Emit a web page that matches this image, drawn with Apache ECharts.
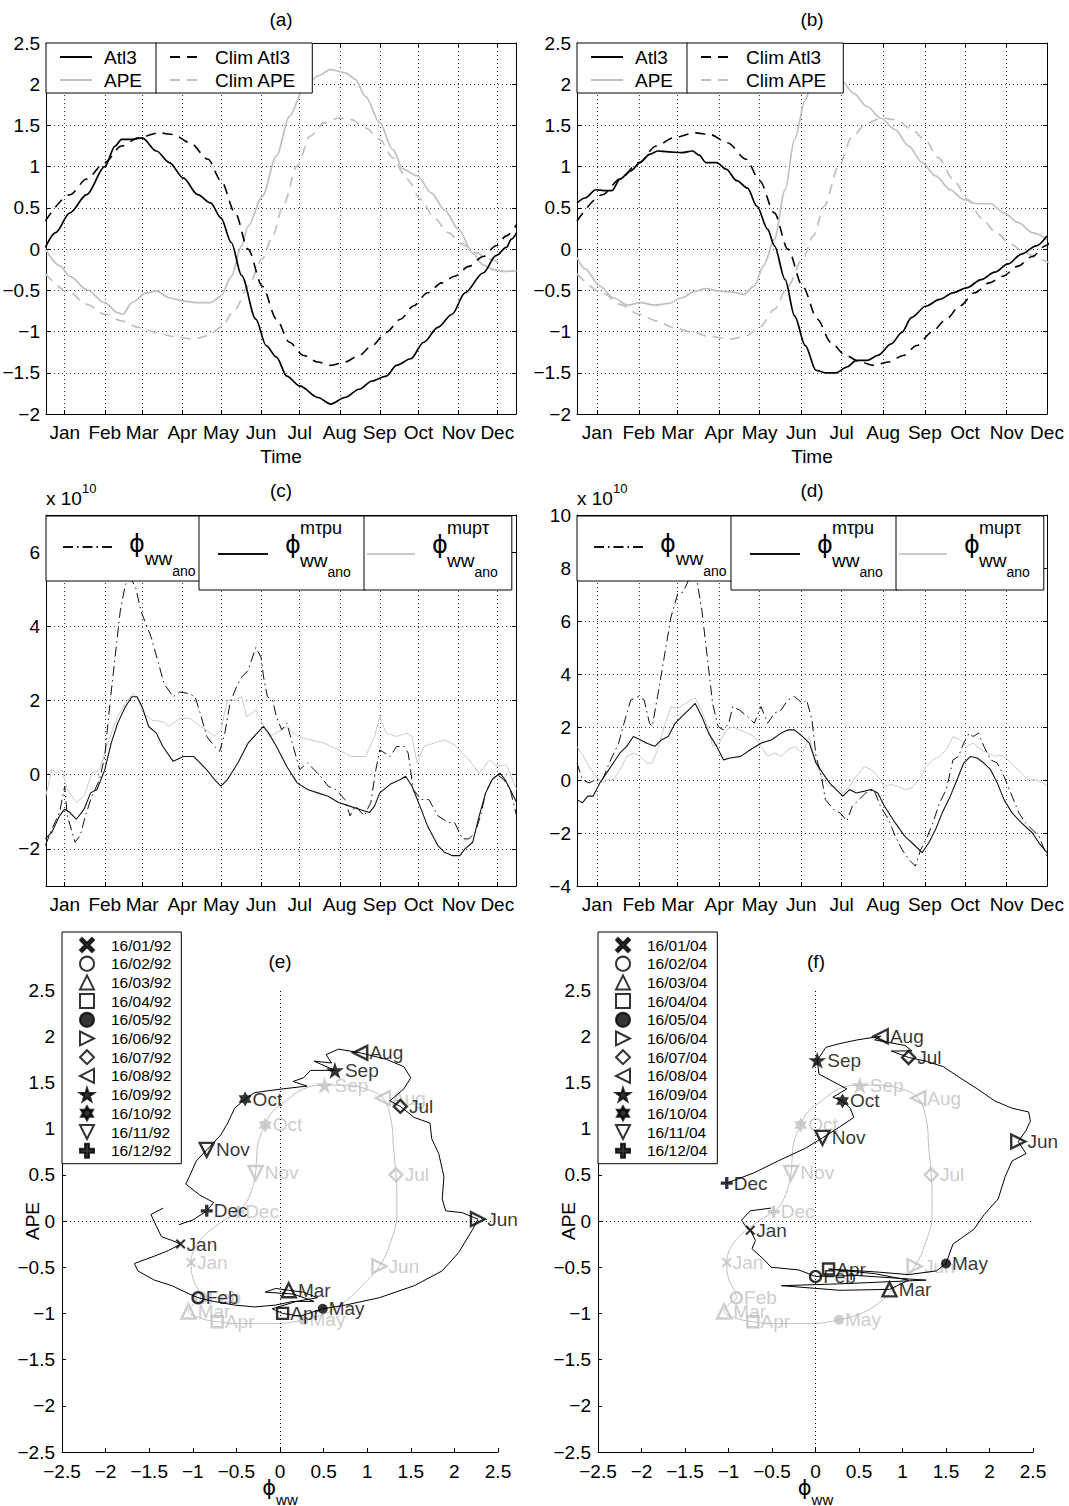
<!DOCTYPE html>
<html>
<head>
<meta charset="utf-8">
<title>Atl3, APE and phi_ww</title>
<script src="https://cdn.jsdelivr.net/npm/echarts@6.0.0/dist/echarts.min.js"></script>
<style>
html,body{margin:0;padding:0;background:#fff;width:1069px;height:1506px;overflow:hidden;position:relative;}
#chart{position:absolute;left:-12px;top:0;width:1081px;height:1506px;}
</style>
</head>
<body>
<div id="chart"></div>
<script>
// ================= DATA =================
const monthNames = ['Jan','Feb','Mar','Apr','May','Jun','Jul','Aug','Sep','Oct','Nov','Dec'];
const monthTickDays = [15,46,75,106,136,167,197,228,259,289,320,350];
const yTicksC = [-2,0,2,4,6];
const dates92 = ['16/01/92','16/02/92','16/03/92','16/04/92','16/05/92','16/06/92','16/07/92','16/08/92','16/09/92','16/10/92','16/11/92','16/12/92'];
const dates04 = ['16/01/04','16/02/04','16/03/04','16/04/04','16/05/04','16/06/04','16/07/04','16/08/04','16/09/04','16/10/04','16/11/04','16/12/04'];

// [day of year, normalised value]
const climAtl3 = [[0,0.34],[19,0.66],[32,0.85],[46,1.05],[59,1.25],[72,1.35],[88,1.41],[99,1.39],[112,1.29],[126,1.09],[136,0.83],[147,0.44],[157,0.0],[168,-0.45],[179,-0.85],[189,-1.13],[200,-1.29],[211,-1.37],[221,-1.41],[232,-1.37],[243,-1.29],[253,-1.17],[264,-1.01],[275,-0.85],[285,-0.69],[296,-0.53],[307,-0.41],[317,-0.33],[328,-0.21],[339,-0.09],[349,0.04],[357,0.16],[365,0.30]];
const climAPE = [[0,-0.30],[19,-0.53],[32,-0.67],[46,-0.79],[59,-0.87],[72,-0.95],[86,-1.01],[99,-1.06],[115,-1.09],[126,-1.05],[136,-0.95],[147,-0.73],[157,-0.45],[168,-0.12],[176,0.16],[184,0.52],[195,1.01],[205,1.37],[216,1.53],[227,1.59],[237,1.57],[248,1.47],[259,1.33],[269,1.11],[280,0.85],[291,0.60],[301,0.38],[312,0.20],[323,0.06],[333,-0.04],[344,-0.12],[355,-0.20]];
const atl3_92 = [[0,0.02],[8,0.20],[19,0.44],[32,0.66],[46,1.0],[54,1.25],[59,1.33],[67,1.33],[75,1.35],[86,1.19],[96,1.05],[107,0.86],[118,0.66],[128,0.56],[136,0.38],[144,0.08],[152,-0.32],[163,-0.85],[171,-1.17],[179,-1.31],[187,-1.54],[197,-1.66],[211,-1.80],[221,-1.88],[232,-1.80],[243,-1.70],[253,-1.60],[264,-1.54],[272,-1.41],[283,-1.33],[293,-1.13],[304,-0.95],[315,-0.79],[325,-0.53],[339,-0.29],[349,-0.08],[357,0.02],[361,0.12],[365,0.20]];
const ape_92 = [[0,0.0],[11,-0.20],[19,-0.33],[32,-0.49],[46,-0.65],[56,-0.77],[60,-0.79],[67,-0.65],[78,-0.53],[86,-0.51],[96,-0.59],[107,-0.63],[118,-0.65],[128,-0.65],[136,-0.57],[144,-0.33],[152,0.04],[157,0.28],[168,0.64],[179,1.13],[189,1.61],[200,1.94],[211,2.10],[221,2.18],[232,2.14],[240,2.06],[248,1.85],[259,1.53],[269,1.21],[277,0.97],[288,0.89],[299,0.68],[309,0.48],[320,0.24],[331,-0.05],[339,-0.19],[347,-0.25],[355,-0.27],[365,-0.26]];
const atl3_04 = [[0,0.56],[6,0.62],[14,0.72],[20,0.71],[26,0.71],[32,0.85],[40,0.95],[47,1.05],[54,1.15],[60,1.19],[68,1.18],[78,1.17],[86,1.19],[91,1.14],[96,1.05],[104,1.05],[111,0.97],[119,0.83],[127,0.74],[134,0.52],[142,0.24],[147,0.04],[155,-0.37],[162,-0.81],[170,-1.17],[178,-1.47],[185,-1.50],[193,-1.50],[201,-1.43],[208,-1.35],[216,-1.35],[224,-1.29],[234,-1.15],[242,-1.01],[249,-0.83],[260,-0.69],[270,-0.61],[280,-0.53],[290,-0.47],[301,-0.37],[311,-0.28],[321,-0.18],[331,-0.06],[342,0.04],[350,0.16]];
const ape_04 = [[0,-0.10],[6,-0.24],[17,-0.45],[27,-0.59],[38,-0.68],[47,-0.65],[58,-0.68],[68,-0.66],[78,-0.59],[88,-0.51],[96,-0.48],[106,-0.51],[116,-0.52],[124,-0.55],[132,-0.45],[139,-0.20],[147,0.12],[155,0.72],[162,1.33],[170,1.81],[176,2.1],[183,2.3],[190,2.25],[197,2.04],[206,1.89],[216,1.73],[226,1.59],[237,1.45],[247,1.25],[257,1.05],[267,0.89],[278,0.72],[288,0.60],[298,0.55],[308,0.55],[318,0.44],[329,0.32],[339,0.20],[350,0.12]];

// [day of year, value x 1e10]
const phi_92 = [[0,-1.91],[5,-1.47],[11,-1.02],[15,-0.31],[17,-1.11],[23,-1.82],[27,-1.64],[31,-1.11],[36,-0.58],[42,-0.13],[46,0.50],[50,1.92],[54,3.17],[58,4.41],[62,5.13],[66,5.3],[70,5.04],[74,4.41],[78,4.06],[82,3.70],[87,3.08],[92,2.45],[99,2.10],[104,2.23],[111,2.19],[116,2.10],[120,1.65],[125,1.03],[131,0.76],[135,0.63],[139,1.12],[143,1.92],[148,2.37],[152,2.63],[157,2.81],[163,3.43],[167,3.17],[169,2.63],[172,2.10],[176,2.01],[179,1.56],[183,1.21],[187,1.39],[192,0.76],[197,0.14],[203,0.32],[208,0.14],[213,-0.04],[219,-0.31],[225,-0.40],[232,-0.67],[236,-1.11],[240,-0.84],[247,-1.11],[252,-0.75],[256,0.14],[259,0.67],[263,0.58],[267,0.49],[272,0.76],[278,0.76],[281,0.58],[285,-0.40],[291,-0.67],[297,-0.67],[304,-1.11],[312,-1.29],[317,-1.29],[323,-1.73],[328,-1.73],[333,-1.55],[337,-1.11],[341,-0.49],[346,-0.13],[350,0.0],[355,-0.13],[360,-0.40],[365,-1.11]];
const mtpu_92 = [[0,-1.73],[5,-1.55],[11,-1.11],[15,-0.93],[19,-1.02],[24,-1.20],[30,-0.93],[35,-0.49],[40,-0.40],[46,0.13],[51,0.85],[56,1.39],[62,1.83],[67,2.10],[71,2.10],[75,1.83],[80,1.30],[86,1.12],[91,0.76],[99,0.36],[107,0.49],[115,0.49],[120,0.31],[125,0.13],[131,-0.13],[136,-0.31],[141,-0.13],[149,0.31],[157,0.85],[164,1.12],[169,1.30],[173,1.12],[179,0.76],[187,0.22],[195,-0.22],[203,-0.40],[211,-0.49],[219,-0.58],[227,-0.75],[235,-0.84],[243,-0.93],[251,-1.02],[255,-0.84],[259,-0.49],[267,-0.26],[275,-0.13],[279,-0.04],[284,-0.31],[290,-0.84],[296,-1.38],[304,-1.91],[309,-2.09],[315,-2.18],[321,-2.18],[325,-2.0],[331,-1.82],[336,-1.11],[341,-0.49],[346,-0.13],[352,0.04],[356,-0.13],[360,-0.40],[365,-0.75]];
const mupt_92 = [[0,-0.62],[5,0.13],[9,0.04],[13,0.13],[17,-0.40],[24,-0.75],[30,-0.58],[36,0.04],[42,0.13],[46,0.58],[51,1.12],[56,1.56],[62,1.92],[68,2.19],[72,2.01],[76,1.65],[83,1.47],[91,1.43],[96,1.30],[104,1.52],[112,1.52],[120,1.30],[125,1.21],[131,1.03],[136,1.21],[141,2.01],[147,2.01],[152,2.10],[156,1.56],[163,1.74],[168,1.39],[173,1.03],[179,1.12],[187,1.30],[195,1.03],[205,0.94],[216,0.85],[227,0.67],[237,0.49],[248,0.49],[255,1.03],[259,1.56],[264,1.12],[272,1.03],[280,1.12],[284,1.03],[288,0.31],[293,0.76],[301,0.85],[309,0.94],[317,0.80],[323,0.58],[328,0.40],[336,0.04],[344,0.40],[350,0.22],[357,0.27],[365,-0.40]];
const phi_04 = [[0,0.64],[4,0.01],[9,-0.11],[14,0.01],[19,0.01],[24,0.64],[31,1.39],[35,2.14],[40,3.02],[46,3.15],[50,3.02],[54,2.14],[56,2.02],[60,3.15],[65,4.65],[70,6.15],[75,7.03],[79,7.09],[83,7.53],[88,7.9],[93,6.40],[97,4.65],[101,2.89],[105,2.02],[109,1.89],[113,2.14],[116,2.77],[121,2.64],[127,2.39],[132,2.14],[137,2.77],[142,2.14],[147,2.52],[152,2.64],[157,3.02],[162,3.15],[168,2.89],[171,3.02],[175,2.27],[178,0.89],[182,0.14],[185,-0.74],[191,-1.11],[196,-1.24],[201,-1.55],[205,-0.99],[210,-0.74],[215,-0.49],[221,-0.36],[226,-0.99],[232,-1.49],[237,-2.12],[242,-2.62],[247,-2.99],[252,-3.25],[256,-2.62],[260,-2.24],[265,-1.62],[270,-0.86],[275,-0.36],[280,0.76],[284,0.89],[288,1.39],[292,1.77],[295,1.64],[299,1.77],[303,1.27],[308,0.76],[313,0.64],[318,0.14],[324,-0.61],[329,-1.24],[334,-1.62],[339,-1.87],[344,-2.12],[350,-2.87]];
const mtpu_04 = [[0,-0.74],[4,-0.86],[8,-0.61],[12,-0.61],[17,-0.11],[22,0.26],[27,0.64],[32,1.02],[37,1.27],[42,1.64],[47,1.52],[52,1.39],[58,1.27],[63,1.52],[68,1.64],[73,2.14],[78,2.39],[83,2.64],[88,2.89],[93,2.39],[98,1.77],[104,1.27],[109,0.76],[114,0.83],[122,0.89],[129,1.14],[137,1.39],[145,1.52],[152,1.77],[157,1.89],[162,1.89],[168,1.64],[173,1.39],[178,0.64],[183,0.26],[188,-0.11],[193,-0.36],[198,-0.61],[203,-0.36],[208,-0.49],[214,-0.42],[219,-0.36],[224,-0.49],[229,-0.99],[237,-1.62],[244,-2.12],[252,-2.49],[257,-2.74],[262,-2.37],[267,-1.87],[272,-1.24],[278,-0.61],[283,0.01],[288,0.64],[293,0.89],[298,0.83],[303,0.64],[308,0.39],[313,-0.11],[318,-0.74],[324,-1.24],[331,-1.62],[339,-1.99],[344,-2.37],[350,-2.74]];
const mupt_04 = [[0,1.27],[4,0.95],[9,0.51],[14,0.14],[19,-0.11],[23,0.01],[27,0.01],[32,0.39],[37,0.89],[42,1.02],[47,0.89],[52,0.64],[56,0.64],[60,1.14],[65,2.02],[70,2.77],[75,2.71],[83,2.95],[88,3.1],[93,2.6],[98,1.9],[101,1.27],[106,1.39],[111,1.89],[116,2.02],[121,1.89],[127,1.77],[132,1.64],[137,1.27],[142,0.89],[147,1.02],[152,0.89],[157,1.14],[162,1.27],[168,1.02],[173,1.64],[178,0.64],[183,0.01],[188,-0.24],[193,-0.24],[198,-0.49],[203,-0.24],[208,0.14],[214,0.51],[219,0.39],[224,0.14],[229,-0.24],[234,-0.17],[239,-0.24],[244,-0.36],[249,-0.30],[255,0.01],[260,0.51],[265,0.76],[270,0.89],[275,1.14],[280,1.64],[285,1.52],[290,1.27],[295,1.39],[301,1.14],[306,1.02],[311,0.89],[316,0.95],[321,0.76],[326,0.51],[331,0.26],[336,0.01],[342,0.01],[347,-0.11],[350,-0.24]];

// phase-space trajectories [phi_ww, APE]
const trajClim = [[-0.80,-0.10],[-0.95,-0.25],[-1.02,-0.45],[-1.0,-0.62],[-0.91,-0.83],[-1.0,-0.91],[-1.05,-0.98],[-0.92,-1.05],[-0.72,-1.09],[-0.44,-1.11],[-0.05,-1.11],[0.27,-1.07],[0.55,-0.99],[0.75,-0.87],[0.94,-0.70],[1.14,-0.49],[1.26,-0.25],[1.34,0.07],[1.34,0.32],[1.33,0.50],[1.30,0.81],[1.28,1.06],[1.18,1.33],[0.98,1.43],[0.75,1.47],[0.51,1.47],[0.27,1.43],[0.07,1.30],[-0.09,1.18],[-0.17,1.04],[-0.25,0.85],[-0.27,0.65],[-0.28,0.52],[-0.33,0.32],[-0.40,0.18],[-0.48,0.10],[-0.62,0.02],[-0.80,-0.10]];
const traj_92 = [[-1.34,0.14],[-1.48,0.07],[-1.42,-0.05],[-1.36,-0.17],[-1.24,-0.21],[-1.14,-0.25],[-1.28,-0.32],[-1.44,-0.38],[-1.67,-0.46],[-1.63,-0.54],[-1.44,-0.64],[-1.24,-0.70],[-1.04,-0.79],[-0.94,-0.83],[-0.76,-0.87],[-0.52,-0.91],[-0.29,-0.93],[-0.05,-0.91],[0.15,-0.87],[0.39,-0.87],[0.15,-0.79],[-0.17,-0.77],[-0.05,-0.73],[0.10,-0.75],[0.27,-0.77],[0.43,-0.83],[0.19,-0.87],[-0.09,-0.95],[0.03,-1.0],[0.23,-1.03],[0.49,-0.95],[0.75,-0.91],[1.14,-0.83],[1.54,-0.70],[1.86,-0.54],[2.05,-0.34],[2.21,-0.09],[2.27,0.02],[2.09,0.09],[1.90,0.11],[1.86,0.24],[1.88,0.48],[1.82,0.73],[1.74,0.89],[1.72,1.06],[1.54,1.12],[1.38,1.24],[1.26,1.30],[1.42,1.43],[1.50,1.55],[1.42,1.67],[1.22,1.75],[0.92,1.82],[0.67,1.86],[0.53,1.80],[0.59,1.71],[0.39,1.73],[0.63,1.63],[0.35,1.63],[0.27,1.55],[0.15,1.51],[0.31,1.46],[0.03,1.43],[-0.29,1.39],[-0.40,1.32],[-0.52,1.22],[-0.60,1.06],[-0.68,0.93],[-0.84,0.77],[-0.96,0.65],[-1.04,0.48],[-1.08,0.40],[-0.92,0.28],[-0.76,0.20],[-0.84,0.11],[-1.0,0.01],[-1.16,-0.04]];
const traj_04 = [[-0.51,0.14],[-0.75,0.11],[-0.85,0.01],[-0.81,-0.05],[-0.75,-0.10],[-0.69,-0.21],[-0.73,-0.30],[-0.59,-0.42],[-0.51,-0.50],[-0.19,-0.53],[0.0,-0.60],[0.48,-0.59],[1.27,-0.64],[0.28,-0.68],[-0.39,-0.70],[0.28,-0.75],[0.85,-0.74],[1.07,-0.64],[0.68,-0.57],[0.15,-0.52],[0.68,-0.55],[1.07,-0.58],[1.39,-0.54],[1.50,-0.46],[1.58,-0.25],[1.82,-0.09],[1.94,0.07],[2.10,0.24],[2.18,0.48],[2.26,0.65],[2.42,0.73],[2.33,0.86],[2.42,0.98],[2.47,1.08],[2.45,1.18],[2.26,1.22],[2.06,1.30],[1.86,1.43],[1.66,1.55],[1.47,1.67],[1.27,1.73],[1.07,1.77],[0.87,1.84],[1.11,1.84],[1.03,1.90],[0.68,1.96],[0.75,2.0],[0.48,1.96],[0.28,1.92],[0.12,1.88],[0.02,1.74],[0.04,1.59],[0.20,1.51],[0.36,1.43],[0.20,1.34],[0.31,1.30],[0.40,1.22],[0.44,1.12],[0.28,1.02],[0.08,0.90],[-0.11,0.79],[-0.43,0.65],[-0.71,0.52],[-1.02,0.41]];

// monthly (16th) marker positions
const markClimX = [-1.02,-0.91,-1.05,-0.72,0.27,1.14,1.33,1.18,0.51,-0.17,-0.28,-0.48];
const markClimY = [-0.45,-0.83,-0.98,-1.09,-1.07,-0.49,0.50,1.33,1.47,1.04,0.52,0.10];
const mark92X = [-1.14,-0.94,0.10,0.03,0.49,2.27,1.38,0.92,0.63,-0.40,-0.84,-0.84];
const mark92Y = [-0.25,-0.83,-0.75,-1.0,-0.95,0.02,1.24,1.82,1.63,1.32,0.77,0.11];
const mark04X = [-0.75,0.0,0.85,0.15,1.50,2.33,1.07,0.75,0.02,0.31,0.08,-1.02];
const mark04Y = [-0.10,-0.60,-0.74,-0.52,-0.46,0.86,1.77,2.0,1.74,1.30,0.90,0.41];

// ================= STYLE / LAYOUT =================
const OX = 12;            // chart canvas starts 12px left of the page
const FS = 19;
const FONT = '"Liberation Sans", Arial, Helvetica, sans-serif';
const PHI_FONT = '"DejaVu Sans", sans-serif';
const GREY = '#c0c0c0';
const LGREY = '#cacaca';
const GRIDC = '#333';
const DOT = [1, 3];

const SYM = [
  {symbol:'path://M0,15 L15,0 L50,35 L85,0 L100,15 L65,50 L100,85 L85,100 L50,65 L15,100 L0,85 L35,50 Z', size:10, hollow:false},
  {symbol:'circle', size:11, hollow:true},
  {symbol:'path://M50,0 L100,100 L0,100 Z', size:14, hollow:true},
  {symbol:'path://M0,0 L100,0 L100,100 L0,100 Z', size:11, hollow:true},
  {symbol:'circle', size:10, hollow:false},
  {symbol:'path://M0,0 L100,50 L0,100 Z', size:14, hollow:true},
  {symbol:'path://M50,0 L100,50 L50,100 L0,50 Z', size:13, hollow:true},
  {symbol:'path://M100,0 L0,50 L100,100 Z', size:14, hollow:true},
  {symbol:'path://M50,0 L61.23,34.55 L97.55,34.55 L68.17,55.9 L79.39,90.45 L50,69.1 L20.61,90.45 L31.83,55.9 L2.45,34.55 L38.77,34.55 Z', size:18, hollow:false},
  {symbol:'path://M50,0 L93.3,75 L6.7,75 Z M50,100 L6.7,25 L93.3,25 Z', size:15, hollow:false},
  {symbol:'path://M0,0 L100,0 L50,100 Z', size:14, hollow:true},
  {symbol:'path://M36,0 L64,0 L64,36 L100,36 L100,64 L64,64 L64,100 L36,100 L36,64 L0,64 L0,36 L36,36 Z', size:12, hollow:false}
];

function num(v){ const r = Math.round(v*1000)/1000; return (r < 0 ? '\u2212' : '') + Math.abs(r); }
function mon(v){ const i = monthTickDays.indexOf(Math.round(v)); return i >= 0 ? monthNames[i] : ''; }
function aLine(){ return {show:true, onZero:false, lineStyle:{color:'#000', width:1}}; }
function aTick(cv){ const t = {show:true, inside:true, length:4, lineStyle:{color:'#000', width:1}}; if (cv) t.customValues = cv; return t; }

const gridBoxes = [
  [46, 43, 470, 371], [577, 43, 470, 371],
  [46, 515, 470, 371], [577, 515, 470, 371],
  [62, 990, 436, 462], [598, 990, 435, 462]
];
const grids = gridBoxes.map(b => ({left:b[0]+OX, top:b[1], width:b[2], height:b[3], containLabel:false, outerBoundsMode:'none', show:false}));

function timeXAxes(gi, min, max, name){
  return [
    {gridIndex:gi, type:'value', position:'bottom', min, max,
     axisLine:aLine(), axisTick:aTick(monthTickDays),
     axisLabel:{show:true, customValues:monthTickDays, formatter:mon, fontSize:FS, color:'#000', fontFamily:FONT, margin:9},
     splitLine:{show:true, lineStyle:{color:GRIDC, width:1, type:DOT}},
     name:name || '', nameLocation:'middle', nameGap:33, nameTextStyle:{fontSize:FS, color:'#000', fontFamily:FONT}},
    {gridIndex:gi, type:'value', position:'top', min, max,
     axisLine:aLine(), axisTick:aTick(monthTickDays), axisLabel:{show:false}, splitLine:{show:false}}
  ];
}
function valYAxes(gi, min, max, interval, custom, extra){
  const l = {gridIndex:gi, type:'value', position:'left', min, max,
     axisLine:aLine(), axisTick:aTick(custom),
     axisLabel:{show:true, formatter:num, fontSize:FS, color:'#000', fontFamily:FONT, margin:6, showMinLabel:true, showMaxLabel:true},
     splitLine:{show:true, lineStyle:{color:GRIDC, width:1, type:DOT}}};
  const r = {gridIndex:gi, type:'value', position:'right', min, max,
     axisLine:aLine(), axisTick:aTick(custom), axisLabel:{show:false}, splitLine:{show:false}};
  if (interval){ l.interval = interval; r.interval = interval; }
  if (custom){ l.axisLabel.customValues = custom; }
  if (extra) Object.assign(l, extra);
  return [l, r];
}
const expName = {
  name:'{a|x 10}{b|10}', nameLocation:'end', nameGap:7,
  nameTextStyle:{align:'left', color:'#000', fontFamily:FONT,
    rich:{a:{fontSize:FS, height:19, lineHeight:26, verticalAlign:'bottom'}, b:{fontSize:13, height:13, lineHeight:13, verticalAlign:'top'}}}
};
function phaseX(gi){
  return {gridIndex:gi, type:'value', min:-2.5, max:2.5, interval:0.5,
    axisLine:aLine(), axisTick:aTick(), splitLine:{show:false},
    axisLabel:{fontSize:FS, color:'#000', fontFamily:FONT, margin:10, formatter:num, showMinLabel:true, showMaxLabel:true},
    name:'{p|\u03d5}{w|ww}', nameLocation:'middle', nameGap:25, nameMoveOverlap:false,
    nameTextStyle:{color:'#000', fontFamily:FONT,
      rich:{p:{fontSize:21, height:22, lineHeight:29, verticalAlign:'top', fontFamily:PHI_FONT}, w:{fontSize:15, height:14, lineHeight:14, verticalAlign:'bottom'}}}};
}
function phaseY(gi){
  return {gridIndex:gi, type:'value', min:-2.5, max:2.5, interval:0.5,
    axisLine:aLine(), axisTick:aTick(), splitLine:{show:false},
    axisLabel:{fontSize:FS, color:'#000', fontFamily:FONT, margin:7, formatter:num, showMinLabel:true, showMaxLabel:true},
    name:'APE', nameLocation:'middle', nameGap:20, nameMoveOverlap:false, nameTextStyle:{fontSize:FS, color:'#000', fontFamily:FONT}};
}

const xAxes = [
  ...timeXAxes(0, 0.5, 364.5, 'Time'), ...timeXAxes(1, 0, 350, 'Time'),
  ...timeXAxes(2, 0.5, 364.5, ''), ...timeXAxes(3, 0, 350, ''),
  phaseX(4), phaseX(5)
];
const yAxes = [
  ...valYAxes(0, -2, 2.5, 0.5), ...valYAxes(1, -2, 2.5, 0.5),
  ...valYAxes(2, -3, 7, null, yTicksC, expName), ...valYAxes(3, -4, 10, 2, null, expName),
  phaseY(4), phaseY(5)
];
// axis index per panel: a=0, b=2, c=4, d=6, e=8, f=9

const series = [];
function ln(ai, data, color, width, type, name, smooth, extra){
  series.push(Object.assign({type:'line', name, xAxisIndex:ai, yAxisIndex:ai, data, symbol:'none', showSymbol:false,
    smooth: smooth || false, smoothMonotone: smooth === 0.3 ? 'x' : undefined,
    lineStyle:{color, width, type:type || 'solid'}, itemStyle:{color, opacity:0}, clip:true, silent:true, animation:false}, extra || {}));
}
// (a) & (b)
[[0, atl3_92, ape_92], [2, atl3_04, ape_04]].forEach(([ai, atl, ape]) => {
  ln(ai, climAPE, GREY, 1.7, [10,7], 'Clim APE', 0.3);
  ln(ai, ape, GREY, 1.7, 'solid', 'APE', 0.3);
  ln(ai, climAtl3, '#000', 1.6, [10,7], 'Clim Atl3', 0.3);
  ln(ai, atl, '#000', 1.7, 'solid', 'Atl3', 0.3);
});
// (c) & (d)
[[4, phi_92, mtpu_92, mupt_92], [6, phi_04, mtpu_04, mupt_04]].forEach(([ai, p, m, u]) => {
  ln(ai, u, LGREY, 1, 'solid', 'mupt');
  ln(ai, p, '#111', 1, [10,4,1.5,4], 'phi');
  ln(ai, m, '#111', 1.1, 'solid', 'mtpu');
});
// (e) & (f)
function symStyle(s, color){
  return s.hollow ? {color:'rgba(0,0,0,0)', borderColor:color, borderWidth:2.4} : {color, borderColor:color, borderWidth:0};
}
[[8, traj_92, mark92X, mark92Y, dates92], [9, traj_04, mark04X, mark04Y, dates04]].forEach(([ai, tr, mx, my, dates]) => {
  ln(ai, trajClim, GREY, 1, 'solid', 'climtraj', 0.4, {
    markLine:{silent:true, symbol:['none','none'], label:{show:false}, animation:false,
      lineStyle:{color:'#000', type:DOT, width:1}, data:[{xAxis:0},{yAxis:0}]}
  });
  series.push({type:'scatter', name:'climmarks', xAxisIndex:ai, yAxisIndex:ai, symbolKeepAspect:true, silent:true, animation:false,
    data: markClimX.map((x, i) => ({value:[x, markClimY[i]], symbol:SYM[i].symbol, symbolSize:SYM[i].size,
      itemStyle:symStyle(SYM[i], GREY), label:{formatter:monthNames[i]}})),
    label:{show:true, position:'right', distance:1, fontSize:FS, color:GREY, fontFamily:FONT}, z:3});
  ln(ai, tr, '#000', 1, 'solid', 'traj', false, {z:4});
  mx.forEach((x, i) => {
    series.push({type:'scatter', name:dates[i], xAxisIndex:ai, yAxisIndex:ai, data:[[x, my[i]]],
      symbol:SYM[i].symbol, symbolSize:SYM[i].size, symbolKeepAspect:true,
      itemStyle:symStyle(SYM[i], '#000'), silent:true, animation:false, z:5,
      label:{show:true, position:'right', distance:1, fontSize:FS, color:'#000', fontFamily:FONT, formatter:monthNames[i]}});
  });
});

// ---------- legends ----------
function boxLegend(names, left, top, padding, itemWidth){
  return {show:true, orient:'vertical', left:left+OX, top, padding, itemWidth, itemHeight:14, itemGap:3, data:names,
    selectedMode:false, borderColor:'#000', borderWidth:1, backgroundColor:'#fff', borderRadius:0, z:10,
    itemStyle:{opacity:0},
    textStyle:{fontSize:FS, color:'#000', fontFamily:FONT, lineHeight:20, padding:[0,0,0,7]}};
}
// rich layouts for the phi legend labels (sub/superscripts)
const R1 = {
  p:{fontSize:24, height:50, lineHeight:56, verticalAlign:'top', fontFamily:PHI_FONT, padding:[0,0,0,11]},
  w:{fontSize:FS, height:34, lineHeight:34, verticalAlign:'bottom'},
  an:{fontSize:14, height:8, lineHeight:8, verticalAlign:'bottom'}
};
const R2 = {
  p:{fontSize:24, width:15, height:22, lineHeight:22, verticalAlign:'bottom', fontFamily:PHI_FONT, padding:[0,0,0,12]},
  su:{fontSize:18, height:16, lineHeight:36, verticalAlign:'top'},
  w:{fontSize:FS, height:8, lineHeight:8, verticalAlign:'top', padding:[0,0,0,27]},
  an:{fontSize:14, height:32, lineHeight:32, verticalAlign:'top'}
};
function phiLegend(name, left, top, padding, itemWidth, label, rich){
  return {show:true, orient:'vertical', left:left+OX, top, padding, itemWidth, itemHeight:14, data:[name],
    selectedMode:false, borderColor:'#000', borderWidth:1, backgroundColor:'#fff', borderRadius:0, z:10,
    itemStyle:{opacity:0},
    textStyle:{color:'#000', fontFamily:FONT, rich}, formatter:() => label};
}
const L1 = '{p|\u03d5}{w|ww}{an|ano}';
const L2 = sup => '{p|\u03d5}{su|' + sup + '}\n{w|ww}{an|ano}';
function markLegend(names, left, top){
  return {show:true, orient:'vertical', left:left+OX, top, padding:[5,10,5,17], itemWidth:14, itemHeight:14, itemGap:2.7,
    data:names, selectedMode:false, borderColor:'#000', borderWidth:1, backgroundColor:'#fff', borderRadius:0, z:10,
    itemStyle:{borderWidth:2},
    textStyle:{fontSize:15.5, color:'#000', fontFamily:FONT, lineHeight:14, padding:[0,0,0,12]}};
}
const legends = [
  boxLegend(['Atl3','APE'], 46, 43, [4,15,3,13], 32), boxLegend(['Clim Atl3','Clim APE'], 156, 43, [4,16,3,13], 33),
  boxLegend(['Atl3','APE'], 577, 43, [4,15,3,13], 32), boxLegend(['Clim Atl3','Clim APE'], 687, 43, [4,16,3,13], 33),
  phiLegend('phi', 46, 516, [3,8,3,16], 50, L1, R1), phiLegend('mtpu', 199, 516, [3,15,2,18], 50, L2('m\u03c4pu'), R2), phiLegend('mupt', 364, 516, [3,14,2,2], 48, L2('mup\u03c4'), R2),
  phiLegend('phi', 577, 516, [3,8,3,16], 50, L1, R1), phiLegend('mtpu', 731, 516, [3,15,2,18], 50, L2('m\u03c4pu'), R2), phiLegend('mupt', 896, 516, [3,14,2,2], 48, L2('mup\u03c4'), R2),
  markLegend(dates92, 62, 932), markLegend(dates04, 598, 932)
];

// ---------- panel titles ----------
const titles = [['(a)', 281, 19], ['(b)', 812, 19], ['(c)', 281, 490], ['(d)', 812, 490], ['(e)', 280, 961], ['(f)', 816, 961]];
const graphic = titles.map(t => ({type:'text', x:t[1]+OX, y:t[2], silent:true, z:20,
  style:{text:t[0], fontSize:FS, fontFamily:FONT, fill:'#000', align:'center', verticalAlign:'middle', textAlign:'center', textVerticalAlign:'middle'}}));

const chart = echarts.init(document.getElementById('chart'), null, {renderer:'svg'});
chart.setOption({
  animation:false,
  backgroundColor:'#fff',
  textStyle:{fontFamily:FONT, color:'#000'},
  grid:grids, xAxis:xAxes, yAxis:yAxes, legend:legends, series, graphic
});
</script>
</body>
</html>
